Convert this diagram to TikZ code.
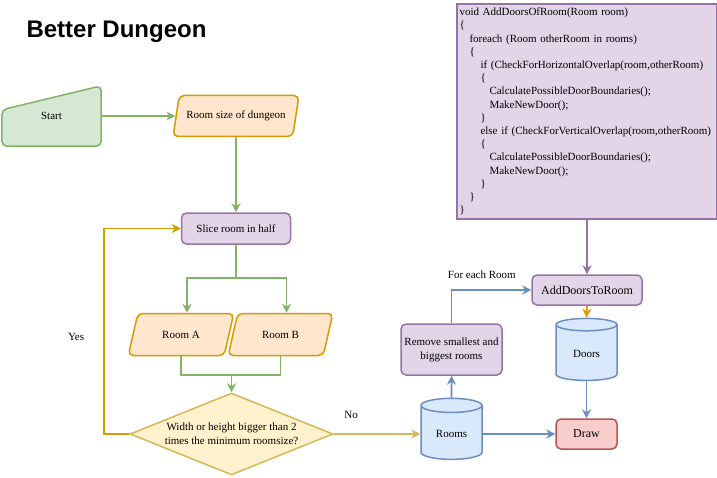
\documentclass[tikz,border=0pt]{standalone}
\usepackage{fontspec}
\setmainfont{Liberation Serif}
\newfontfamily\titlefont{Liberation Sans}
\usepackage{tikz}
\usetikzlibrary{arrows.meta,positioning,shapes.geometric,calc,backgrounds}
\definecolor{greenfill}{HTML}{D5E8D4}
\definecolor{greenline}{HTML}{82B366}
\definecolor{orangefill}{HTML}{FFE6CC}
\definecolor{orangeline}{HTML}{D79B00}
\definecolor{purplefill}{HTML}{E1D5E7}
\definecolor{purpleline}{HTML}{9673A6}
\definecolor{yellowfill}{HTML}{FFF2CC}
\definecolor{yellowline}{HTML}{D6B656}
\definecolor{bluefill}{HTML}{DAE8FC}
\definecolor{blueline}{HTML}{6C8EBF}
\definecolor{redfill}{HTML}{F8CECC}
\definecolor{redline}{HTML}{B85450}

\begin{document}
\begin{tikzpicture}[
    x=1pt,y=1pt,
    font=\fontsize{11}{14}\selectfont,
    base/.style={line width=1.5pt,align=center,inner sep=2pt},
    process/.style={base,rectangle,rounded corners=5pt,draw=purpleline,fill=purplefill},
    inputbox/.style={base,trapezium,trapezium left angle=68,trapezium right angle=112,trapezium stretches=true,rounded corners=5pt,draw=orangeline,fill=orangefill,minimum height=41pt},
    store/.style={base,cylinder,shape border rotate=90,aspect=0.4,draw=blueline,fill=bluefill,minimum width=61pt,minimum height=61pt},
    decision/.style={base,diamond,aspect=2.5,draw=yellowline,fill=yellowfill,minimum width=203pt,minimum height=82pt,inner sep=0pt},
    arrow/.style={-{Stealth[length=9pt,width=9pt,inset=3pt]},line width=1.6pt},
    link/.style={line width=1.6pt}
  ]
    \useasboundingbox (0,0) rectangle (717,-478);

    \node[font=\titlefont\fontsize{24}{28}\selectfont\bfseries] (title) at (116.5,-32) {Better Dungeon};

    % left column
    \node[minimum width=99pt,minimum height=60pt] (start) at (51.5,-116) {Start};
    \node[inputbox,minimum width=126pt] (size) at (236,-116) {Room size of dungeon};
    \node[process,minimum width=109pt,minimum height=31pt,below=75pt of size] (slice) {Slice room in half};
    \node[inputbox,minimum width=106pt,minimum height=42pt] (roomA) at (181,-334.5) {Room A};
    \node[inputbox,minimum width=105pt,minimum height=42pt] (roomB) at (280.5,-334.5) {Room B};
    \node[decision] (check) at (231.5,-434) {Width or height bigger than 2\\times the minimum roomsize?};
    \coordinate (split) at ($(slice.south)+(0,-33)$);
    \coordinate (merge) at (231.5,-375);

    % right column
    \node[store] (rooms) at (451.5,-434) {Rooms};
    \node[process,minimum width=101pt,minimum height=51pt] (prune) at (451.5,-349.5) {Remove smallest and\\biggest rooms};
    \node[process,minimum width=110pt,minimum height=30pt,font=\fontsize{12}{14}\selectfont] (adddoors) at (587,-290) {AddDoorsToRoom};
    \node[store,minimum height=62pt] (doors) at (586.5,-354) {Doors};
    \node[base,rectangle,rounded corners=5pt,draw=redline,fill=redfill,minimum width=61pt,minimum height=30pt,font=\fontsize{12}{14}\selectfont] (draw) at (586.5,-434) {Draw};
    \node[draw=purpleline,fill=purplefill,line width=1.2pt,minimum width=260pt,minimum height=215pt,text width=255pt,inner sep=2.5pt,align=left,font=\fontsize{11}{13.2}\selectfont] (code) at (587,-111.5) {%
void AddDoorsOfRoom(Room room)\\
\{\\
\hspace*{10pt}foreach (Room otherRoom in rooms)\\
\hspace*{10pt}\{\\
\hspace*{21pt}if (CheckForHorizontalOverlap(room,otherRoom)\\
\hspace*{21pt}\{\\
\hspace*{30pt}CalculatePossibleDoorBoundaries();\\
\hspace*{30pt}MakeNewDoor();\\
\hspace*{21pt}\}\\
\hspace*{21pt}else if (CheckForVerticalOverlap(room,otherRoom)\\
\hspace*{21pt}\{\\
\hspace*{30pt}CalculatePossibleDoorBoundaries();\\
\hspace*{30pt}MakeNewDoor();\\
\hspace*{21pt}\}\\
\hspace*{10pt}\}\\
\}};

    \begin{scope}[on background layer]
      \draw[line width=1.5pt,draw=greenline,fill=greenfill,rounded corners=5pt]
        (start.south west) -- ([yshift=-24pt]start.north west) -- (start.north east) -- (start.south east) -- cycle;
    \end{scope}

    \draw[arrow,draw=greenline] (start.east) -- (size.west);
    \draw[arrow,draw=greenline] (size) -- (slice);
    \draw[link,draw=greenline] (slice.south) -- (split);
    \draw[arrow,draw=greenline] (split) -| ([xshift=6pt]roomA.north);
    \draw[arrow,draw=greenline] (split) -| ([xshift=6pt]roomB.north);
    \draw[link,draw=greenline] (roomA.south) |- (merge) -| (roomB.south);
    \draw[arrow,draw=greenline] (merge) -- (check.north);
    \draw[arrow,draw=orangeline] (check.west) -- ++(-25,0) |- node[pos=0.237,left=16pt]{Yes} (slice.west);
    \draw[arrow,draw=yellowline] (check.east) -- node[pos=0.2,above=11pt]{No} (rooms.west);
    \draw[arrow,draw=blueline] (rooms.north) -- (prune.south);
    \draw[arrow,draw=blueline] (prune.north) |- node[pos=0.69,above=7pt]{For each Room} (adddoors.west);
    \draw[arrow,draw=blueline] (rooms.east) -- (draw.west);
    \draw[arrow,draw=purpleline] (code.south) -- (adddoors.north);
    \draw[arrow,draw=orangeline] (adddoors.south) -- (doors.north);
    \draw[arrow,draw=blueline] (doors.south) -- (draw.north);
  \end{tikzpicture}
\end{document}
